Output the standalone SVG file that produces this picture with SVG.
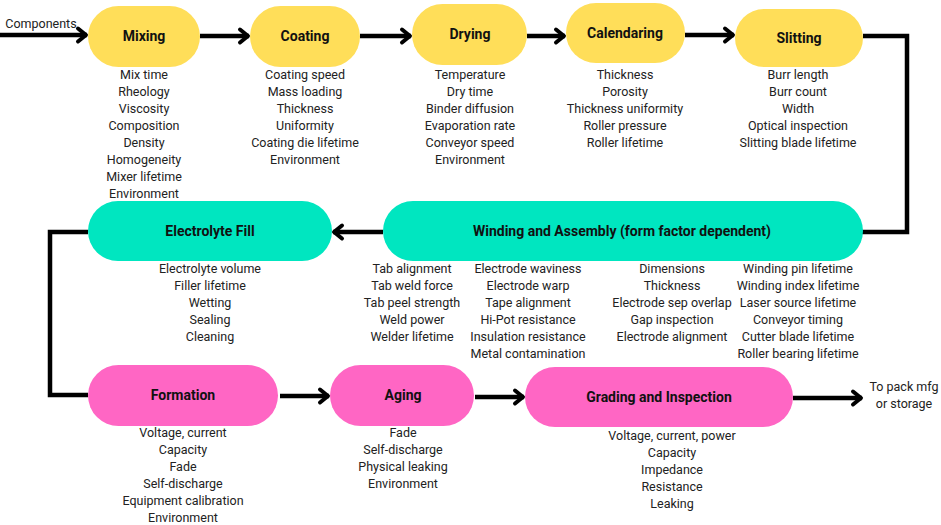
<svg xmlns="http://www.w3.org/2000/svg" width="941" height="525" viewBox="0 0 941 525">
<defs>
<style>
.y{fill:#FFDE59}
.t{fill:#00E6C0}
.p{fill:#FF66C4}
.ttl{font-family:Roboto,"Liberation Sans",sans-serif;font-weight:bold;font-size:14px;fill:#111;text-anchor:middle}
.lst{font-family:Roboto,"Liberation Sans",sans-serif;font-size:12.5px;fill:#222;text-anchor:middle}
.c{fill:none;stroke:#000;stroke-width:4.5;stroke-linejoin:miter}
</style>
<marker id="ah" markerUnits="userSpaceOnUse" markerWidth="20" markerHeight="20" viewBox="0 0 20 20" refX="16" refY="10" orient="auto">
<path d="M7,3.5 L15,10 L7,16.5" fill="none" stroke="#000" stroke-width="4" stroke-linecap="round" stroke-linejoin="round"/>
</marker>
</defs>
<rect width="941" height="525" fill="#fff"/>

<g id="connectors">
<path class="c" d="M0,35 H87" marker-end="url(#ah)"/>
<path class="c" d="M200,36 H249" marker-end="url(#ah)"/>
<path class="c" d="M360,36 H411" marker-end="url(#ah)"/>
<path class="c" d="M527,36 H565" marker-end="url(#ah)"/>
<path class="c" d="M685,35 H734" marker-end="url(#ah)"/>
<path class="c" d="M863,36 H907 V232 H862"/>
<path class="c" d="M383,232 H333" marker-end="url(#ah)"/>
<path class="c" d="M88,232 H50 V395 H88"/>
<path class="c" d="M280,396 H329" marker-end="url(#ah)"/>
<path class="c" d="M475,397 H524" marker-end="url(#ah)"/>
<path class="c" d="M793,398 H862" marker-end="url(#ah)"/>
</g>

<g id="components">
<text class="lst" x="41" y="28" font-size="12.5">Components</text>
</g>

<g id="mixing">
<rect class="y" x="88" y="6" width="112" height="61" rx="30.5"/>
<text class="ttl" x="144" y="41">Mixing</text>
<text class="lst" x="144" y="79">Mix time</text>
<text class="lst" x="144" y="96">Rheology</text>
<text class="lst" x="144" y="113">Viscosity</text>
<text class="lst" x="144" y="130">Composition</text>
<text class="lst" x="144" y="147">Density</text>
<text class="lst" x="144" y="164">Homogeneity</text>
<text class="lst" x="144" y="181">Mixer lifetime</text>
<text class="lst" x="144" y="198">Environment</text>
</g>

<g id="coating">
<rect class="y" x="250" y="6" width="110" height="61" rx="30.5"/>
<text class="ttl" x="305" y="41">Coating</text>
<text class="lst" x="305" y="79">Coating speed</text>
<text class="lst" x="305" y="96">Mass loading</text>
<text class="lst" x="305" y="113">Thickness</text>
<text class="lst" x="305" y="130">Uniformity</text>
<text class="lst" x="305" y="147">Coating die lifetime</text>
<text class="lst" x="305" y="164">Environment</text>
</g>

<g id="drying">
<rect class="y" x="412" y="4" width="115" height="61" rx="30.5"/>
<text class="ttl" x="470" y="39">Drying</text>
<text class="lst" x="470" y="79">Temperature</text>
<text class="lst" x="470" y="96">Dry time</text>
<text class="lst" x="470" y="113">Binder diffusion</text>
<text class="lst" x="470" y="130">Evaporation rate</text>
<text class="lst" x="470" y="147">Conveyor speed</text>
<text class="lst" x="470" y="164">Environment</text>
</g>

<g id="calendaring">
<rect class="y" x="566" y="3" width="119" height="60" rx="30"/>
<text class="ttl" x="625" y="38">Calendaring</text>
<text class="lst" x="625" y="79">Thickness</text>
<text class="lst" x="625" y="96">Porosity</text>
<text class="lst" x="625" y="113">Thickness uniformity</text>
<text class="lst" x="625" y="130">Roller pressure</text>
<text class="lst" x="625" y="147">Roller lifetime</text>
</g>

<g id="slitting">
<rect class="y" x="735" y="9" width="128" height="58" rx="29"/>
<text class="ttl" x="799" y="43">Slitting</text>
<text class="lst" x="798" y="79">Burr length</text>
<text class="lst" x="798" y="96">Burr count</text>
<text class="lst" x="798" y="113">Width</text>
<text class="lst" x="798" y="130">Optical inspection</text>
<text class="lst" x="798" y="147">Slitting blade lifetime</text>
</g>

<g id="winding">
<rect class="t" x="383" y="201" width="480" height="60" rx="30"/>
<text class="ttl" x="622" y="236">Winding and Assembly (form factor dependent)</text>
<text class="lst" x="412" y="273">Tab alignment</text>
<text class="lst" x="412" y="290">Tab weld force</text>
<text class="lst" x="412" y="307">Tab peel strength</text>
<text class="lst" x="412" y="324">Weld power</text>
<text class="lst" x="412" y="341">Welder lifetime</text>
<text class="lst" x="528" y="273">Electrode waviness</text>
<text class="lst" x="528" y="290">Electrode warp</text>
<text class="lst" x="528" y="307">Tape alignment</text>
<text class="lst" x="528" y="324">Hi-Pot resistance</text>
<text class="lst" x="528" y="341">Insulation resistance</text>
<text class="lst" x="528" y="358">Metal contamination</text>
<text class="lst" x="672" y="273">Dimensions</text>
<text class="lst" x="672" y="290">Thickness</text>
<text class="lst" x="672" y="307">Electrode sep overlap</text>
<text class="lst" x="672" y="324">Gap inspection</text>
<text class="lst" x="672" y="341">Electrode alignment</text>
<text class="lst" x="798" y="273">Winding pin lifetime</text>
<text class="lst" x="798" y="290">Winding index lifetime</text>
<text class="lst" x="798" y="307">Laser source lifetime</text>
<text class="lst" x="798" y="324">Conveyor timing</text>
<text class="lst" x="798" y="341">Cutter blade lifetime</text>
<text class="lst" x="798" y="358">Roller bearing lifetime</text>
</g>

<g id="electrolyte-fill">
<rect class="t" x="88" y="201" width="244" height="60" rx="30"/>
<text class="ttl" x="210" y="236">Electrolyte Fill</text>
<text class="lst" x="210" y="273">Electrolyte volume</text>
<text class="lst" x="210" y="290">Filler lifetime</text>
<text class="lst" x="210" y="307">Wetting</text>
<text class="lst" x="210" y="324">Sealing</text>
<text class="lst" x="210" y="341">Cleaning</text>
</g>

<g id="formation">
<rect class="p" x="88" y="365" width="190" height="61" rx="30.5"/>
<text class="ttl" x="183" y="400">Formation</text>
<text class="lst" x="183" y="437">Voltage, current</text>
<text class="lst" x="183" y="454">Capacity</text>
<text class="lst" x="183" y="471">Fade</text>
<text class="lst" x="183" y="488">Self-discharge</text>
<text class="lst" x="183" y="505">Equipment calibration</text>
<text class="lst" x="183" y="522">Environment</text>
</g>

<g id="aging">
<rect class="p" x="330" y="365" width="144" height="61" rx="30.5"/>
<text class="ttl" x="403" y="400">Aging</text>
<text class="lst" x="403" y="437">Fade</text>
<text class="lst" x="403" y="454">Self-discharge</text>
<text class="lst" x="403" y="471">Physical leaking</text>
<text class="lst" x="403" y="488">Environment</text>
</g>

<g id="grading">
<rect class="p" x="525" y="367" width="268" height="60" rx="30"/>
<text class="ttl" x="659" y="402">Grading and Inspection</text>
<text class="lst" x="672" y="440">Voltage, current, power</text>
<text class="lst" x="672" y="457">Capacity</text>
<text class="lst" x="672" y="474">Impedance</text>
<text class="lst" x="672" y="491">Resistance</text>
<text class="lst" x="672" y="508">Leaking</text>
</g>

<g id="output">
<text class="lst" x="904" y="391">To pack mfg</text>
<text class="lst" x="904" y="408">or storage</text>
</g>
</svg>
